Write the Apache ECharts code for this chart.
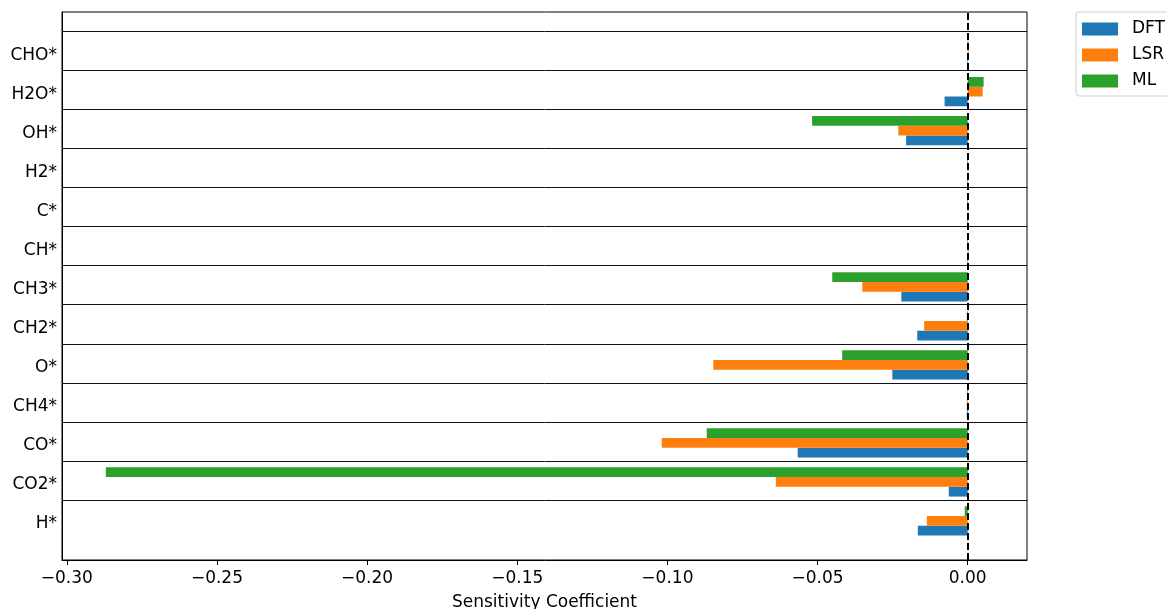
<!DOCTYPE html>
<html>
<head>
<meta charset="utf-8">
<script src="https://cdn.jsdelivr.net/npm/echarts@6/dist/echarts.min.js"></script>
<style>
html,body{margin:0;padding:0;background:#fff;}
#chart{width:1167px;height:609px;}
</style>
</head>
<body>
<div id="chart"></div>
<script>
// Categories from bottom (index 0) to top
const categories = ['H*','CO2*','CO*','CH4*','O*','CH2*','CH3*','CH*','C*','H2*','OH*','H2O*','CHO*'];
const dftValues = [-0.0166,-0.0063,-0.0566,-0.0003,-0.0251,-0.0168,-0.0221,-0.0002,-0.0002,-0.0002,-0.0205,-0.0077,-0.0002];
const lsrValues = [-0.0136,-0.0639,-0.1019,-0.0003,-0.0847,-0.0145,-0.0351,0.0003,0.0002,0.0002,-0.0231,0.0050,0.0003];
const mlValues  = [-0.0010,-0.2870,-0.0869,-0.0002,-0.0418,-0.0003,-0.0451,-0.0002,-0.0002,-0.0002,-0.0518,0.0053,0.0002];
const seriesNames = ['DFT','LSR','ML'];
const xTickValues = [-0.30,-0.25,-0.20,-0.15,-0.10,-0.05,0.00];
const yTickValues = [0,1,2,3,4,5,6,7,8,9,10,11,12];
const separatorValues = yTickValues.map(k => k + 0.54);

const colors = ['#1f77b4','#ff7f0e','#2ca02c'];
const offsets = [-0.25, 0, 0.25];
const barH = 0.25;
const font = 'DejaVu Sans';

function makeRender(offset){
  return function(params, api){
    const v = api.value(0), k = api.value(1);
    const p0 = api.coord([0, k + offset + barH/2]);
    const p1 = api.coord([v, k + offset - barH/2]);
    return {
      type:'rect',
      shape:{x:Math.min(p0[0],p1[0]), y:p0[1], width:Math.abs(p1[0]-p0[0]), height:p1[1]-p0[1]},
      style:{fill: api.visual('color')}
    };
  };
}

const allValues = [dftValues, lsrValues, mlValues];
const series = allValues.map((vals, si) => ({
  type:'custom',
  name: seriesNames[si],
  itemStyle:{color: colors[si]},
  renderItem: makeRender(offsets[si]),
  encode:{x:0, y:1},
  data: vals.map((v,i)=>[v,i]),
  z: 2
}));
series[2].markLine = {
  silent:true, symbol:['none','none'], animation:false,
  label:{show:false},
  data: separatorValues.map(y => ({yAxis:y, lineStyle:{color:'#111', width:1, type:'solid'}}))
    .concat([{xAxis:0, lineStyle:{color:'#000', width:2, type:[7,3]}}])
};

const chart = echarts.init(document.getElementById('chart'), null, {renderer:'canvas'});
chart.setOption({
  animation:false,
  textStyle:{fontFamily:font},
  grid:{left:62, top:12, width:965, height:548, show:true, borderColor:'#000', borderWidth:1,
    backgroundColor:'transparent', containLabel:false, outerBoundsMode:'none'},
  legend:{
    orient:'vertical', left:1076, top:12,
    data: seriesNames.map(n => ({name:n, icon:'rect'})),
    itemWidth:36, itemHeight:13, itemGap:6,
    padding:[7,8,5,6],
    borderColor:'#d0d0d0', borderWidth:1, borderRadius:3,
    textStyle:{fontFamily:font, fontSize:17, color:'#000', lineHeight:20, padding:[0,0,0,9]}
  },
  xAxis:{
    type:'value', min:-0.3016, max:0.01975,
    name:'Sensitivity Coefficient', nameLocation:'middle', nameGap:34,
    nameTextStyle:{fontFamily:font, fontSize:17, color:'#000'},
    axisLine:{show:true, onZero:false, lineStyle:{color:'#000', width:1}},
    axisTick:{show:true, length:5, lineStyle:{color:'#000'}, customValues: xTickValues},
    axisLabel:{fontFamily:font, fontSize:17, color:'#000', margin:10, customValues: xTickValues,
      formatter: v => (v < -1e-9 ? '\u2212' : '') + Math.abs(v).toFixed(2)},
    splitLine:{show:false}
  },
  yAxis:{
    type:'value', min:-1.0, max:13.04,
    axisLine:{show:true, onZero:false, lineStyle:{color:'#000', width:1}},
    axisTick:{show:false},
    axisLabel:{fontFamily:font, fontSize:17, color:'#000', margin:5, customValues: yTickValues,
      rich:{c:{fontFamily:font, fontSize:17, color:'#000', padding:[6,0,0,0]}},
      formatter: v => { const n = categories[Math.round(v)]; return n ? '{c|' + n + '}' : ''; }},
    splitLine:{show:false}
  },
  series: series
});
</script>
</body>
</html>
